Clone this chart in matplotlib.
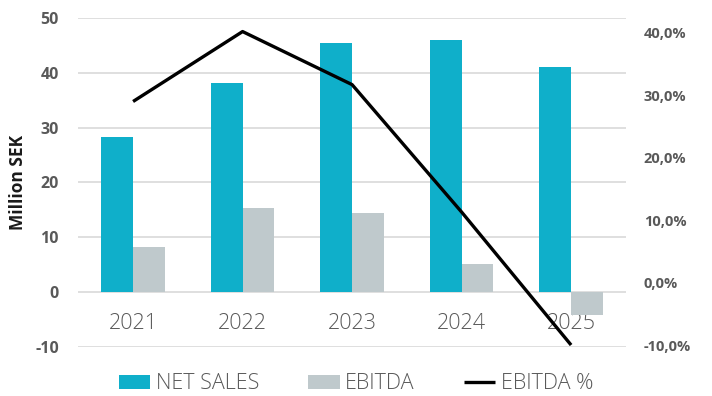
import matplotlib
matplotlib.use("Agg")
import matplotlib.pyplot as plt
import numpy as np
from matplotlib.ticker import FuncFormatter

plt.rcParams["axes.unicode_minus"] = False

# ── Data ──────────────────────────────────────────────────────────────────────
years = ["2021", "2022", "2023", "2024", "2025"]
net_sales = [28.3, 38.1, 45.4, 46.0, 41.1]
ebitda = [8.2, 15.3, 14.4, 5.2, -4.1]
ebitda_pct = [29.0, 40.2, 31.7, 11.3, -10.0]

C_SALES = "#0FAFCA"
C_EBITDA = "#BFC9CC"
C_GRID = "#D9D9D9"
C_TEXT = "#595959"

fig = plt.figure(figsize=(7.12, 3.96), dpi=100)
ax = fig.add_axes([0.11, 0.124, 0.769, 0.831])
ax2 = ax.twinx()

x = np.arange(len(years))
w = 0.29
ax.bar(x - w / 2, net_sales, width=w, color=C_SALES, zorder=2, label="NET SALES")
ax.bar(x + w / 2, ebitda, width=w, color=C_EBITDA, zorder=2, label="EBITDA")

ax.set_xlim(-0.5, 4.5)
ax.set_ylim(-10, 50)
ax.set_yticks(range(-10, 51, 10))
ax.yaxis.grid(True, color=C_GRID, linewidth=1.2, zorder=0)
ax.set_axisbelow(True)
ax.set_xticks([])
ax.tick_params(axis="y", length=0, pad=14, labelsize=11.5, labelcolor=C_TEXT)
for lbl in ax.get_yticklabels():
    lbl.set_fontweight("bold")
    lbl.set_family("Open Sans")
ax.set_ylabel("Million SEK", fontsize=12.5, fontweight="bold", family="Open Sans",
              labelpad=6, color="#1a1a1a")

# year labels sit just under the zero line
for i, yr in enumerate(years):
    ax.text(i, -5.8, yr, ha="center", va="center", fontsize=15.5,
            color=C_TEXT, family="Open Sans", fontweight="light", zorder=1)

ax2.plot(x, ebitda_pct, color="black", linewidth=2.4, zorder=3, label="EBITDA %",
         solid_capstyle="butt")
ax2.set_ylim(-10.3, 42.4)
ax2.set_yticks(range(-10, 41, 10))
ax2.yaxis.set_major_formatter(FuncFormatter(lambda v, p: f"{v:.1f}%".replace(".", ",")))
ax2.tick_params(axis="y", length=0, pad=13, labelsize=10.5, labelcolor=C_TEXT)
for lbl in ax2.get_yticklabels():
    lbl.set_fontweight("bold")
    lbl.set_family("Open Sans")

for a in (ax, ax2):
    for s in a.spines.values():
        s.set_visible(False)

h1, l1 = ax.get_legend_handles_labels()
h2, l2 = ax2.get_legend_handles_labels()
leg = fig.legend(h1 + h2, l1 + l2, loc="lower center", bbox_to_anchor=(0.5, -0.045),
                 ncol=3, frameon=False, handlelength=1.45,
                 handleheight=0.65, handletextpad=0.25, columnspacing=2.3,
                 prop={"family": "Open Sans", "weight": "light", "size": 15.5})
for t in leg.get_texts():
    t.set_color(C_TEXT)

plt.savefig("out.png", dpi=100)
